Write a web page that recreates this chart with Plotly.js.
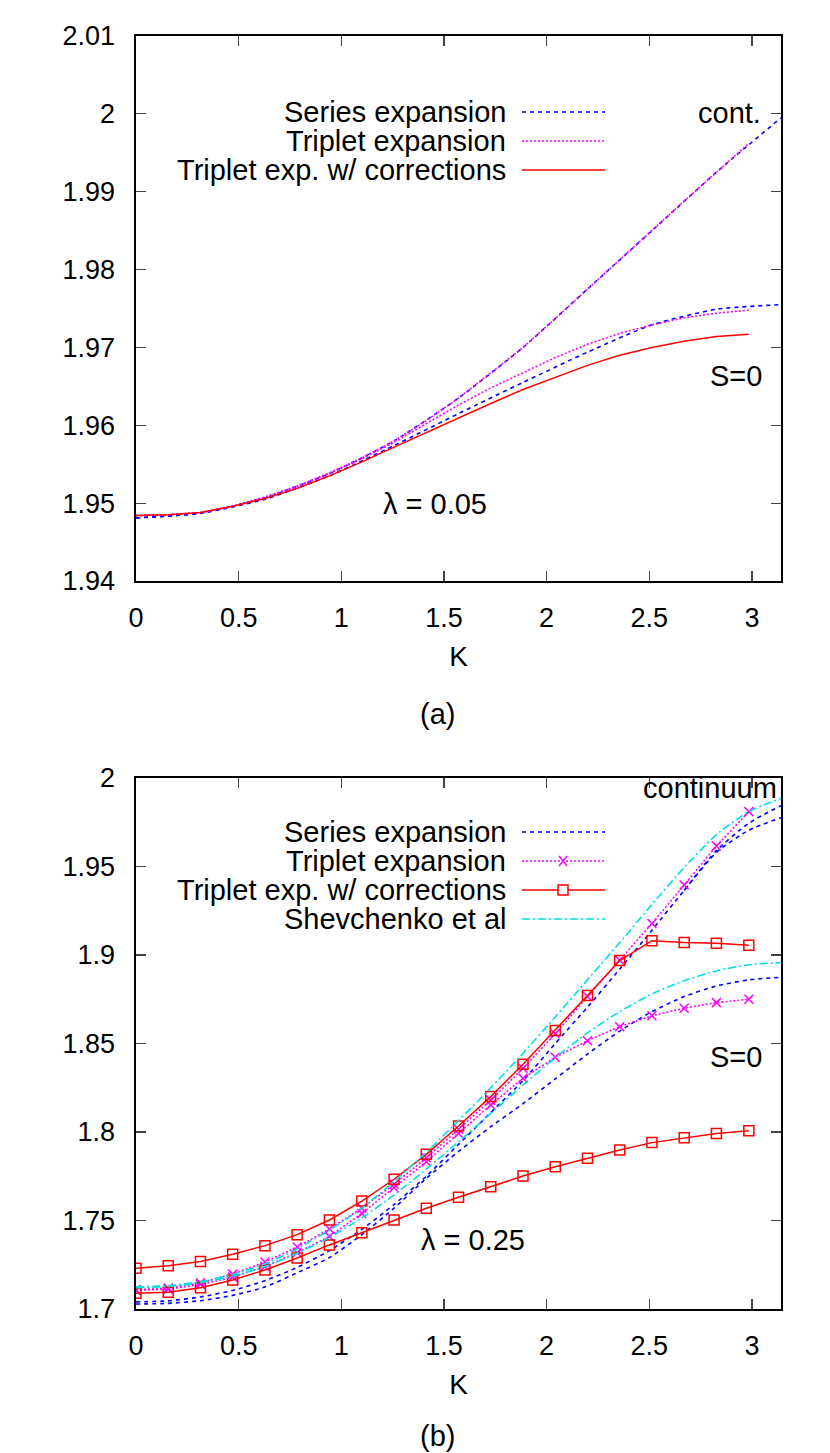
<!DOCTYPE html>
<html>
<head>
<meta charset="utf-8">
<script src="https://cdn.plot.ly/plotly-3.0.1.min.js"></script>
<style>
  body { margin: 0; background: #fff; }
  #plot { width: 830px; height: 1453px; }
</style>
</head>
<body>
<div id="plot"></div>
<script>
// ------------------------
// K grids (multiples of pi/20)
var kFull = [0, 0.157, 0.314, 0.471, 0.628, 0.785, 0.942, 1.100, 1.257, 1.414, 1.571,
             1.728, 1.885, 2.042, 2.199, 2.356, 2.513, 2.670, 2.827, 2.985, 3.1416];
var kTrip = kFull.slice(0, 20);
var kSer = [0, 0.314, 0.628, 0.942, 1.257, 1.571, 1.885, 2.199, 2.513, 2.827, 3.1416];
var kEdge = [2.670, 2.827, 2.985, 3.1416];

// ------------------------
// (a) lambda = 0.05
var serContA = [1.9481, 1.9487, 1.9507, 1.9538, 1.9580, 1.9635, 1.9700, 1.9775, 1.9850, 1.9925, 1.9995];
var serS0A   = [1.9481, 1.9487, 1.9505, 1.9535, 1.9574, 1.9615, 1.9655, 1.9694, 1.9729, 1.9749, 1.9755];
var tripContA = [1.9484, 1.9485, 1.9488, 1.9496, 1.9508, 1.9522, 1.9539, 1.9558, 1.9580, 1.9606,
                 1.9635, 1.9667, 1.9700, 1.9737, 1.9775, 1.9812, 1.9850, 1.9888, 1.9925, 1.9962];
var tripS0A   = [1.9484, 1.9485, 1.9488, 1.9496, 1.9507, 1.9521, 1.9538, 1.9557, 1.9578, 1.9602,
                 1.9626, 1.9648, 1.9668, 1.9687, 1.9704, 1.9718, 1.9729, 1.9738, 1.9744, 1.9748];
var corrS0A   = [1.9484, 1.9485, 1.9488, 1.9496, 1.9506, 1.9519, 1.9535, 1.9553, 1.9572, 1.9591,
                 1.9609, 1.9628, 1.9646, 1.9662, 1.9677, 1.9690, 1.9700, 1.9708, 1.9714, 1.9717];

// ------------------------
// (b) lambda = 0.25
var serContB = [1.7040, 1.7046, 1.7068, 1.7105, 1.7160, 1.7235, 1.7330, 1.7450, 1.7590, 1.7750, 1.7930,
                1.8110, 1.8290, 1.8500, 1.8705, 1.8920, 1.9140, 1.9365, 1.9580, 1.9705, 1.9776];
var serEdgeB = [1.9365, 1.9590, 1.9745, 1.9844];
var serS0B   = [1.7028, 1.7032, 1.7047, 1.7077, 1.7124, 1.7205, 1.7290, 1.7420, 1.7570, 1.7738, 1.7890,
                1.8030, 1.8160, 1.8300, 1.8440, 1.8570, 1.8680, 1.8765, 1.8825, 1.8860, 1.8874];
var tripContB = [1.7110, 1.7118, 1.7148, 1.7197, 1.7265, 1.7350, 1.7452, 1.7570, 1.7705, 1.7855,
                 1.8015, 1.8180, 1.8360, 1.8555, 1.8765, 1.8970, 1.9178, 1.9395, 1.9616, 1.9810];
var tripS0B   = [1.7105, 1.7112, 1.7138, 1.7180, 1.7240, 1.7318, 1.7410, 1.7540, 1.7685, 1.7832,
                 1.7992, 1.8153, 1.8304, 1.8422, 1.8516, 1.8595, 1.8657, 1.8699, 1.8731, 1.8750];
var corrContB = [1.7230, 1.7245, 1.7268, 1.7309, 1.7358, 1.7420, 1.7503, 1.7610, 1.7733, 1.7874,
                 1.8034, 1.8200, 1.8383, 1.8574, 1.8771, 1.8969, 1.9081, 1.9070, 1.9066, 1.9055];
var corrS0B   = [1.7089, 1.7094, 1.7120, 1.7164, 1.7220, 1.7288, 1.7362, 1.7431, 1.7503, 1.7569,
                 1.7631, 1.7691, 1.7751, 1.7804, 1.7851, 1.7898, 1.7940, 1.7968, 1.7992, 1.8007];
var shevContB = [1.7125, 1.7132, 1.7155, 1.7195, 1.7255, 1.7340, 1.7445, 1.7570, 1.7720, 1.7885, 1.8065,
                 1.8250, 1.8445, 1.8650, 1.8860, 1.9070, 1.9285, 1.9495, 1.9680, 1.9810, 1.9885];
var shevS0B   = [1.7120, 1.7127, 1.7148, 1.7185, 1.7240, 1.7315, 1.7405, 1.7515, 1.7645, 1.7790, 1.7945,
                 1.8105, 1.8265, 1.8420, 1.8560, 1.8680, 1.8780, 1.8855, 1.8910, 1.8945, 1.8957];

var legendA = ["Series expansion", "Triplet expansion", "Triplet exp. w/ corrections"];
var legendB = ["Series expansion", "Triplet expansion", "Triplet exp. w/ corrections", "Shevchenko et al"];

// ------------------------
// styles
var FONT = "Liberation Sans, Arial, Helvetica, sans-serif";
var W = 830, H = 1453;
var BLUE = "#0000ff", MAG = "#ff00ff", RED = "#ff0000", CYAN = "#00e0e0";
var serLine  = {color: BLUE, width: 1.6, dash: "4px,4px", shape: "spline", smoothing: 0.6};
var tripLine = {color: MAG, width: 1.6, dash: "2px,2px"};
var corrLine = {color: RED, width: 1.5};
var shevLine = {color: CYAN, width: 1.6, dash: "8px,3px,2px,3px", shape: "spline", smoothing: 0.6};
var xMark = {symbol: "x-thin-open", size: 9, color: MAG, line: {color: MAG, width: 1.5}};
var sqMark = {symbol: "square-open", size: 10, color: RED, line: {color: RED, width: 1.5}};

function px(x) { return x / W; }
function py(y) { return 1 - y / H; }

function line(k, v, style, ax) {
  return {x: k, y: v, mode: "lines", line: style, xaxis: "x" + ax, yaxis: "y" + ax,
          showlegend: false, hoverinfo: "skip"};
}
function linesp(k, v, style, mark, ax) {
  return {x: k, y: v, mode: "lines+markers", line: style, marker: mark,
          xaxis: "x" + ax, yaxis: "y" + ax, showlegend: false, hoverinfo: "skip"};
}

var data = [
  line(kSer, serContA, serLine, ""),
  line(kSer, serS0A, serLine, ""),
  line(kTrip, tripContA, tripLine, ""),
  line(kTrip, tripS0A, tripLine, ""),
  line(kTrip, corrS0A, corrLine, ""),

  line(kFull, serContB, serLine, "2"),
  line(kEdge, serEdgeB, serLine, "2"),
  line(kFull, serS0B, serLine, "2"),
  linesp(kTrip, tripContB, tripLine, xMark, "2"),
  linesp(kTrip, tripS0B, tripLine, xMark, "2"),
  linesp(kTrip, corrContB, corrLine, sqMark, "2"),
  linesp(kTrip, corrS0B, corrLine, sqMark, "2"),
  line(kFull, shevContB, shevLine, "2"),
  line(kFull, shevS0B, shevLine, "2")
];

// ------------------------
// axes
var tickFont = {family: FONT, size: 27, color: "#000"};
function xax(anchor) {
  return {
    domain: [px(136), px(781)], anchor: anchor, range: [0, Math.PI],
    dtick: 0.5, tick0: 0, ticks: "inside", ticklen: 10, tickwidth: 1.2,
    showline: true, linecolor: "#000", linewidth: 1.6, mirror: "ticks",
    showgrid: false, zeroline: false, ticklabelstandoff: 12,
    tickfont: tickFont,
    title: {text: "K", font: {family: FONT, size: 28, color: "#000"}, standoff: 14}
  };
}
function yax(top, bottom, range, dtick, anchor) {
  return {
    domain: [py(bottom), py(top)], anchor: anchor, range: range,
    dtick: dtick, tick0: range[0], ticks: "inside", ticklen: 10, tickwidth: 1.2,
    showline: true, linecolor: "#000", linewidth: 1.6, mirror: "ticks",
    showgrid: false, zeroline: false, ticklabelstandoff: 14,
    tickfont: tickFont
  };
}

var annFont = {family: FONT, size: 29, color: "#000"};
function label(text, x, y, anchor) {
  return {text: text, xref: "paper", yref: "paper", x: px(x), y: py(y),
          xanchor: anchor || "center", yanchor: "middle", showarrow: false, font: annFont};
}

var annotations = [
  label("cont.", 763, 113, "right"),
  label("S=0", 736, 376),
  label("λ = 0.05", 435, 504),
  label("(a)", 437, 714),
  label("continuum", 779, 788, "right"),
  label("S=0", 736, 1057),
  label("λ = 0.25", 473, 1240),
  label("(b)", 437, 1436)
];

// legend drawn gnuplot style: text right, sample on the right
var shapes = [];
var keyStyles = [
  {line: {color: BLUE, width: 1.6, dash: "4px,4px"}},
  {line: {color: MAG, width: 1.6, dash: "2px,2px"}, mark: "x"},
  {line: {color: RED, width: 1.5}, mark: "sq"},
  {line: {color: CYAN, width: 1.6, dash: "8px,3px,2px,3px"}}
];
function key(names, rows, withMarks) {
  names.forEach(function(name, i) {
    var yy = rows[i];
    annotations.push(label(name, 508, yy, "right"));
    var st = keyStyles[i];
    shapes.push({type: "line", xref: "paper", yref: "paper",
                 x0: px(522), x1: px(605), y0: py(yy), y1: py(yy), line: st.line});
    if (withMarks && st.mark === "sq") {
      shapes.push({type: "rect", xref: "paper", yref: "paper",
                   x0: px(558), x1: px(568), y0: py(yy - 5), y1: py(yy + 5),
                   fillcolor: "#fff", line: {color: RED, width: 1.5}});
    }
    if (withMarks && st.mark === "x") {
      shapes.push({type: "line", xref: "paper", yref: "paper",
                   x0: px(559), x1: px(567), y0: py(yy - 5), y1: py(yy + 5), line: {color: MAG, width: 1.5}});
      shapes.push({type: "line", xref: "paper", yref: "paper",
                   x0: px(559), x1: px(567), y0: py(yy + 5), y1: py(yy - 5), line: {color: MAG, width: 1.5}});
    }
  });
}
key(legendA, [112, 141, 170], false);
key(legendB, [832, 861, 890, 919], true);

var layout = {
  width: W, height: H,
  margin: {l: 0, r: 0, t: 0, b: 0},
  paper_bgcolor: "#fff", plot_bgcolor: "#fff",
  showlegend: false,
  font: {family: FONT, color: "#000"},
  xaxis: xax("y"),
  yaxis: yax(36, 581, [1.94, 2.01], 0.01, "x"),
  xaxis2: xax("y2"),
  yaxis2: yax(778, 1309, [1.7, 2.0], 0.05, "x2"),
  annotations: annotations,
  shapes: shapes
};

Plotly.newPlot("plot", data, layout, {staticPlot: true});
</script>
</body>
</html>
